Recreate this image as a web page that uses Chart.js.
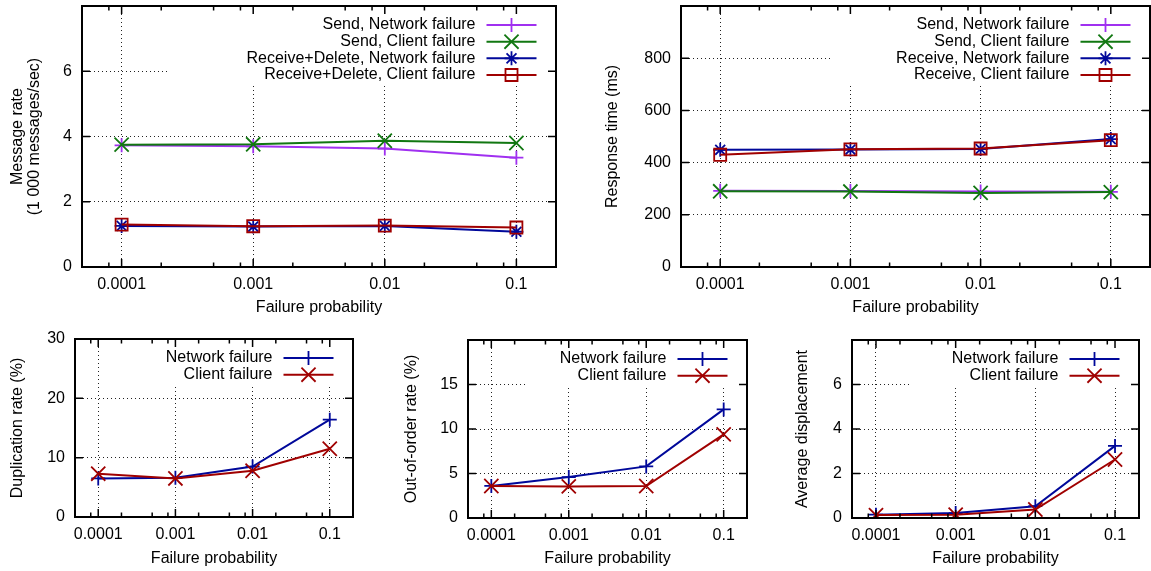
<!DOCTYPE html>
<html>
<head>
<meta charset="utf-8">
<script src="https://cdn.jsdelivr.net/npm/chart.js@4.4.1/dist/chart.umd.min.js"></script>
<style>
  html, body { margin: 0; padding: 0; background: #fff; width: 1151px; height: 571px; overflow: hidden; }
  body { position: relative; }
  canvas { position: absolute; }
</style>
</head>
<body>
<script>
// x axis: failure probability (log scale)
const failureProb = [0.0001, 0.001, 0.01, 0.1];
const probLabels  = ['0.0001', '0.001', '0.01', '0.1'];

// Message rate (1000 messages/sec)
const rateSendNet    = [3.73, 3.70, 3.63, 3.35];
const rateSendClient = [3.75, 3.76, 3.87, 3.80];
const rateRecvNet    = [1.26, 1.24, 1.26, 1.08];
const rateRecvClient = [1.30, 1.25, 1.27, 1.21];

// Response time (ms)
const respSendNet    = [292, 291, 289, 288];
const respSendClient = [290, 289, 284, 287];
const respRecvNet    = [449, 450, 452, 490];
const respRecvClient = [430, 451, 454, 486];

// Duplication rate (%)
const dupNet    = [6.5, 6.6, 8.5, 16.4];
const dupClient = [7.3, 6.5, 7.8, 11.5];

// Out-of-order rate (%)
const oooNet    = [3.6, 4.6, 5.8, 12.2];
const oooClient = [3.6, 3.55, 3.6, 9.4];

// Average displacement
const dispNet    = [0.15, 0.22, 0.53, 3.24];
const dispClient = [0.13, 0.15, 0.38, 2.63];

const FONT = "'Liberation Sans', Arial, Helvetica, sans-serif";
const INK = '#000';
const GRID = '#222';

const PURPLE = '#a030f0';
const GREEN  = '#117711';
const BLUE   = '#00089a';
const RED    = '#a00000';

// Marker look for each gnuplot point type.
const MARK = {
    plus:   { pointStyle: 'cross',    pointRadius: 7 },
    times:  { pointStyle: 'crossRot', pointRadius: 10 },
    star:   { pointStyle: 'star',     pointRadius: 7 },
    square: { pointStyle: 'rect',     pointRadius: 8.5 }
};

// Panel layout: frame = [left, top, right, bottom] of the plot area.
const PANELS = [
    {
        frame: [82, 6, 556, 267], yMax: 8, yStep: 2, hideTop: true,
        yTitle: ['Message rate', '(1 000 messages/sec)'], yTitleX: 18, xTitleY: 308, keyLeft: 86,
        series: [
            { label: 'Send, Network failure',           data: rateSendNet,    color: PURPLE, mark: 'plus' },
            { label: 'Send, Client failure',            data: rateSendClient, color: GREEN,  mark: 'times' },
            { label: 'Receive+Delete, Network failure', data: rateRecvNet,    color: BLUE,   mark: 'star' },
            { label: 'Receive+Delete, Client failure',  data: rateRecvClient, color: RED,    mark: 'square' }
        ]
    },
    {
        frame: [681, 6, 1150, 267], yMax: 1000, yStep: 200, hideTop: true,
        yTitle: 'Response time (ms)', yTitleX: 613, xTitleY: 308, keyLeft: 151,
        series: [
            { label: 'Send, Network failure',    data: respSendNet,    color: PURPLE, mark: 'plus' },
            { label: 'Send, Client failure',     data: respSendClient, color: GREEN,  mark: 'times' },
            { label: 'Receive, Network failure', data: respRecvNet,    color: BLUE,   mark: 'star' },
            { label: 'Receive, Client failure',  data: respRecvClient, color: RED,    mark: 'square' }
        ]
    },
    {
        frame: [75, 339, 353, 517], yMax: 30, yStep: 10, hideTop: false,
        yTitle: 'Duplication rate (%)', yTitleX: 18, xTitleY: 559, keyLeft: 60,
        series: [
            { label: 'Network failure', data: dupNet,    color: BLUE, mark: 'plus' },
            { label: 'Client failure',  data: dupClient, color: RED,  mark: 'times' }
        ]
    },
    {
        frame: [468, 340, 747, 518], yMax: 20, yStep: 5, hideTop: true,
        yTitle: 'Out-of-order rate (%)', yTitleX: 412, xTitleY: 559, keyLeft: 60,
        series: [
            { label: 'Network failure', data: oooNet,    color: BLUE, mark: 'plus' },
            { label: 'Client failure',  data: oooClient, color: RED,  mark: 'times' }
        ]
    },
    {
        frame: [852, 340, 1139, 518], yMax: 8, yStep: 2, hideTop: true,
        yTitle: 'Average displacement', yTitleX: 803, xTitleY: 559, keyLeft: 60,
        series: [
            { label: 'Network failure', data: dispNet,    color: BLUE, mark: 'plus' },
            { label: 'Client failure',  data: dispClient, color: RED,  mark: 'times' }
        ]
    }
];

// Gnuplot-like key: white box, right-aligned text, sample line with marker.
const gnuKey = {
    id: 'gnuKey',
    beforeDatasetsDraw (chart) {
        const opt = chart.options.plugins.gnuKey;
        if (!opt) return;
        const ctx = chart.ctx;
        const ca = chart.chartArea;
        const sets = chart.data.datasets;
        const rowY = i => ca.top + 19 + i * 16.67;
        const x1 = ca.right - 19.5;
        const x0 = x1 - 50;

        ctx.save();
        ctx.fillStyle = '#fff';
        const bx = ca.left + opt.left;
        ctx.fillRect(bx, ca.top + 1, ca.right - 6 - bx, rowY(sets.length - 1) + 9 - ca.top);

        sets.forEach((ds, i) => {
            const y = rowY(i);
            ctx.fillStyle = INK;
            ctx.font = `16px ${FONT}`;
            ctx.textAlign = 'right';
            ctx.textBaseline = 'middle';
            ctx.fillText(ds.label, x0 - 11, y);

            ctx.strokeStyle = ds.borderColor;
            ctx.lineWidth = ds.borderWidth;
            ctx.beginPath();
            ctx.moveTo(x0, y);
            ctx.lineTo(x1, y);
            ctx.stroke();

            ctx.lineWidth = ds.pointBorderWidth;
            ctx.fillStyle = 'rgba(0,0,0,0)';
            Chart.helpers.drawPoint(ctx, {
                pointStyle: ds.pointStyle, radius: ds.pointRadius,
                borderWidth: ds.pointBorderWidth, rotation: 0
            }, (x0 + x1) / 2, y);
        });
        ctx.restore();
    }
};

// Border with inward tick marks on all four sides.
const gnuFrame = {
    id: 'gnuFrame',
    afterDraw (chart) {
        const ctx = chart.ctx;
        const ca = chart.chartArea;
        const xs = chart.scales.x;
        const ys = chart.scales.y;
        ctx.save();
        ctx.strokeStyle = '#000';
        ctx.lineWidth = 1.5;
        ctx.beginPath();
        const xTick = (v, len) => {
            const px = xs.getPixelForValue(v);
            ctx.moveTo(px, ca.bottom); ctx.lineTo(px, ca.bottom - len);
            ctx.moveTo(px, ca.top);    ctx.lineTo(px, ca.top + len);
        };
        failureProb.forEach(v => xTick(v, 8));
        for (let d = 1e-5; d < 1; d *= 10) {
            [2, 5, 8].forEach(m => {
                const v = m * d;
                if (v > xs.min * 1.01 && v < xs.max * 0.99) xTick(v, 4.5);
            });
        }
        ys.ticks.forEach(t => {
            const py = ys.getPixelForValue(t.value);
            ctx.moveTo(ca.left, py);  ctx.lineTo(ca.left + 8, py);
            ctx.moveTo(ca.right, py); ctx.lineTo(ca.right - 8, py);
        });
        ctx.stroke();
        ctx.lineWidth = 2;
        ctx.strokeRect(ca.left, ca.top, ca.right - ca.left, ca.bottom - ca.top);
        ctx.restore();
    }
};

function makePanel (p) {
    const [L, T, R, B] = p.frame;
    const bx = L - 80;
    const by = T - 24;   // room for the y scale's label overflow padding
    const bw = (R + 12) - bx;
    const bh = (B + 54) - by;

    const canvas = document.createElement('canvas');
    canvas.width = bw;
    canvas.height = bh;
    canvas.style.left = bx + 'px';
    canvas.style.top = by + 'px';
    canvas.style.width = bw + 'px';
    canvas.style.height = bh + 'px';
    document.body.appendChild(canvas);

    const n = p.series.length;
    const datasets = p.series.map((s, i) => ({
        label: s.label,
        data: failureProb.map((x, k) => ({ x: x, y: s.data[k] })),
        borderColor: s.color,
        backgroundColor: s.color,
        borderWidth: 2,
        pointBorderColor: s.color,
        pointBackgroundColor: 'rgba(0,0,0,0)',
        pointBorderWidth: 1.8,
        pointStyle: MARK[s.mark].pointStyle,
        pointRadius: MARK[s.mark].pointRadius,
        tension: 0,
        order: n - i   // later series drawn on top, like gnuplot
    }));

    const tickFont = { family: FONT, size: 16 };
    const titleFont = { family: FONT, size: 16, lineHeight: 17 / 16 };

    new Chart(canvas, {
        type: 'line',
        data: { datasets: datasets },
        options: {
            responsive: false,
            devicePixelRatio: 1,
            animation: false,
            layout: {
                autoPadding: false,
                padding: { top: T - by, right: bx + bw - R, left: 0, bottom: 0 }
            },
            plugins: {
                legend: { display: false },
                tooltip: { enabled: false },
                gnuKey: { left: p.keyLeft }
            },
            scales: {
                x: {
                    type: 'logarithmic',
                    position: 'bottom',
                    min: 5e-5,
                    max: 0.2,
                    afterBuildTicks: s => { s.ticks = failureProb.map(v => ({ value: v })); },
                    afterFit: s => { s.height = (by + bh) - B; },
                    ticks: {
                        callback: (v, i) => probLabels[i],
                        autoSkip: false, maxRotation: 0, padding: 8,
                        color: INK, font: tickFont
                    },
                    grid: { color: GRID, lineWidth: 1, drawTicks: false },
                    border: { display: false, dash: [1, 3] },
                    title: {
                        display: true, text: 'Failure probability', color: INK, font: titleFont,
                        padding: { top: 0, bottom: (by + bh) - p.xTitleY - 8.5 }
                    }
                },
                y: {
                    min: 0,
                    max: p.yMax,
                    afterFit: s => { s.width = L - bx; },
                    ticks: {
                        stepSize: p.yStep,
                        callback: v => (p.hideTop && v === p.yMax) ? null : String(v),
                        padding: 10, color: INK, font: tickFont
                    },
                    grid: { color: GRID, lineWidth: 1, drawTicks: false },
                    border: { display: false, dash: [1, 3] },
                    title: {
                        display: true, text: p.yTitle, color: INK, font: titleFont,
                        padding: { top: p.yTitleX - bx - 8.5, bottom: 0 }
                    }
                }
            }
        },
        plugins: [gnuKey, gnuFrame]
    });
}

PANELS.forEach(makePanel);
</script>
</body>
</html>
